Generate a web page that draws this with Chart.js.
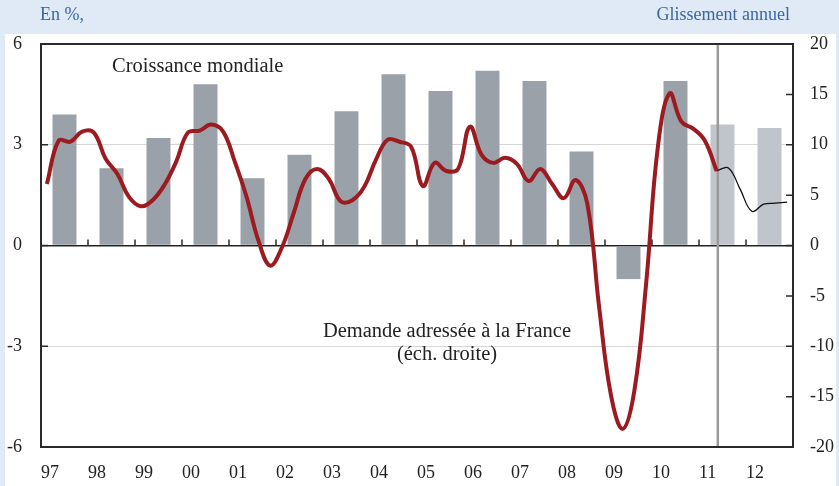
<!DOCTYPE html>
<html lang="fr">
<head>
<meta charset="UTF-8">
<title>Croissance mondiale et demande adressée à la France</title>
<script src="https://cdn.jsdelivr.net/npm/chart.js"></script>
<style>
  html, body { margin: 0; padding: 0; background: #dfeaf6; }
  .wrap { position: relative; width: 839px; height: 486px; font-family: "Liberation Serif", "DejaVu Serif", serif; }
  canvas { position: absolute; left: 0; top: 0; }
  .lbl { position: absolute; white-space: nowrap; line-height: 1; }
  .top { color: #3b66a6; font-size: 18px; top: 5px; }
  .note { color: #222; font-size: 20.5px; }
</style>
</head>
<body>
<div class="wrap">
  <canvas id="chart" width="839" height="486"></canvas>
  <div class="lbl top" style="left:40px">En %,</div>
  <div class="lbl top" style="right:49px">Glissement annuel</div>
  <div class="lbl note" style="left:112px; top:55px">Croissance mondiale</div>
  <div class="lbl note" style="left:297px; top:319px; width:300px; text-align:center; line-height:23px; white-space:normal">
    Demande adressée à la France<br>(éch. droite)
  </div>
</div>
<script>
// Données
const years = ['97', '98', '99', '00', '01', '02', '03', '04', '05', '06', '07', '08', '09', '10', '11', '12'];
// croissance mondiale, moyenne annuelle (éch. gauche)
const croissance = [3.9, 2.3, 3.2, 4.8, 2.0, 2.7, 4.0, 5.1, 4.6, 5.2, 4.9, 2.8, -1.0, 4.9, 3.6, 3.5];
const firstForecastYear = 14; // 2011 et 2012 en prévision
// demande adressée à la France, glissement annuel trimestriel (éch. droite), 1997T1 -> 2012T4
const demande = [
  6.1, 10.4, 10.3, 11.3,
  11.2, 8.6, 7.1, 4.8,
  3.9, 4.5, 6.0, 8.3,
  11.2, 11.4, 12.0, 11.3,
  8.3, 4.8, 0.5, -2.0,
  -0.2, 3.2, 6.6, 7.6,
  6.6, 4.4, 4.5, 5.8,
  8.5, 10.5, 10.3, 9.8,
  5.9, 8.2, 7.4, 7.6,
  11.8, 9.0, 8.2, 8.7,
  8.1, 6.4, 7.6, 6.1,
  4.7, 6.5, 4.1, -6.1,
  -14.8, -18.2, -14.4, -3.8,
  9.8, 15.1, 12.3, 11.6,
  10.4, 7.4, 7.7, 5.6,
  3.4, 4.1, 4.2, 4.3
];
const lastObserved = 57; // 2011T2, dernier point observé
const leftTicks = [-6, -3, 0, 3, 6];
const rightTicks = [-20, -15, -10, -5, 0, 5, 10, 15, 20];

const FONT = '"Liberation Serif", "DejaVu Serif", serif';
const quarterPoint = (v, i) => ({ x: i + 0.5, y: v });
const observed = demande.map(quarterPoint).slice(0, lastObserved + 1);
const forecast = demande.map(quarterPoint).slice(lastObserved);

// fond bleu + panneau blanc
const background = {
  id: 'background',
  beforeDraw(chart) {
    const c = chart.ctx;
    c.save();
    c.fillStyle = '#dfeaf6';
    c.fillRect(0, 0, chart.width, chart.height);
    c.fillStyle = '#ffffff';
    c.fillRect(5, 34, chart.width - 8, chart.height - 34);
    c.restore();
  }
};

// trait vertical de séparation prévision, dessiné juste après les barres
const cutoff = {
  id: 'cutoff',
  afterDatasetDraw(chart, args) {
    if (args.index !== 2) return;
    const { ctx: c, chartArea: a } = chart;
    const x = chart.scales.x.getPixelForValue(lastObserved + 0.6);
    c.save();
    c.strokeStyle = '#9a9a9a';
    c.lineWidth = 2.5;
    c.beginPath();
    c.moveTo(x, a.top);
    c.lineTo(x, a.bottom);
    c.stroke();
    c.restore();
  }
};

// cadre, petites graduations intérieures
const frame = {
  id: 'frame',
  afterDatasetsDraw(chart) {
    const { ctx: c, chartArea: a, scales } = chart;
    c.save();
    c.strokeStyle = '#2a2a2a';
    c.lineWidth = 1.5;
    c.beginPath();
    // graduations années sur la ligne zéro
    const y0 = scales.y.getPixelForValue(0);
    for (let k = 1; k < years.length; k++) {
      const x = scales.x.getPixelForValue(k * 4);
      c.moveTo(x, y0);
      c.lineTo(x, y0 - 6);
    }
    leftTicks.forEach(v => {
      const y = scales.y.getPixelForValue(v);
      c.moveTo(a.left, y);
      c.lineTo(a.left + 7, y);
    });
    rightTicks.forEach(v => {
      const y = scales.y1.getPixelForValue(v);
      c.moveTo(a.right, y);
      c.lineTo(a.right - 7, y);
    });
    c.stroke();
    c.lineWidth = 2;
    c.strokeRect(a.left, a.top, a.right - a.left, a.bottom - a.top);
    c.restore();
  }
};

new Chart(document.getElementById('chart'), {
  type: 'bar',
  data: {
    datasets: [
      {
        type: 'line',
        label: 'Demande adressée à la France',
        data: observed,
        borderColor: '#9c1b20',
        borderWidth: 4,
        pointRadius: 0,
        tension: 0.4,
        yAxisID: 'y1'
      },
      {
        type: 'line',
        label: 'Prévision',
        data: forecast,
        borderColor: '#111111',
        borderWidth: 1.3,
        pointRadius: 0,
        tension: 0.4,
        yAxisID: 'y1'
      },
      {
        type: 'bar',
        label: 'Croissance mondiale',
        data: croissance.map((v, k) => ({ x: k * 4 + 2, y: v })),
        backgroundColor: croissance.map((v, k) => k >= firstForecastYear ? '#c0c4cb' : '#9aa1a8'),
        barPercentage: 0.51,
        categoryPercentage: 1,
        yAxisID: 'y'
      }
    ]
  },
  options: {
    responsive: false,
    animation: false,
    devicePixelRatio: 1,
    layout: { padding: { top: 44, left: 0, right: 0, bottom: 0 } },
    plugins: { legend: { display: false }, tooltip: { enabled: false } },
    scales: {
      x: {
        type: 'linear',
        min: 0,
        max: years.length * 4,
        offset: false,
        grid: { display: false, drawTicks: false, offset: false },
        border: { display: false },
        afterBuildTicks: s => { s.ticks = years.map((_, k) => ({ value: k * 4 })); },
        afterFit: s => { s.height = 39; },
        ticks: {
          align: 'start',
          padding: 15,
          autoSkip: false,
          maxRotation: 0,
          color: '#222',
          font: { family: FONT, size: 18 },
          callback: (v, i) => years[i]
        }
      },
      y: {
        position: 'left',
        min: -6,
        max: 6,
        afterBuildTicks: s => { s.ticks = leftTicks.map(v => ({ value: v })); },
        afterFit: s => { s.width = 41; },
        border: { display: false },
        grid: {
          drawTicks: false,
          lineWidth: ctx => ctx.tick.value === 0 ? 1.5 : 1,
          color: ctx => ctx.tick.value === 0 ? '#222' : (Math.abs(ctx.tick.value) === 6 ? 'rgba(0,0,0,0)' : '#d6d6d6')
        },
        ticks: { padding: 19, color: '#222', font: { family: FONT, size: 18 } }
      },
      y1: {
        position: 'right',
        min: -20,
        max: 20,
        afterBuildTicks: s => { s.ticks = rightTicks.map(v => ({ value: v })); },
        afterFit: s => { s.width = 46; },
        border: { display: false },
        grid: { display: false, drawTicks: false },
        ticks: { padding: 17, color: '#222', font: { family: FONT, size: 18 } }
      }
    }
  },
  plugins: [background, cutoff, frame]
});
</script>
</body>
</html>
